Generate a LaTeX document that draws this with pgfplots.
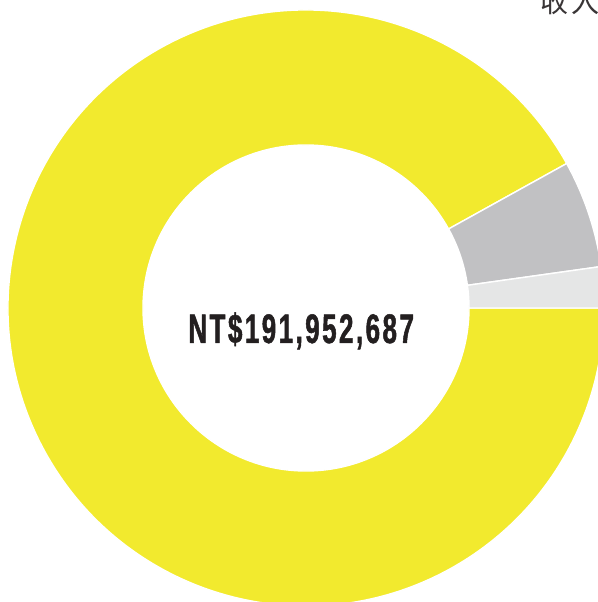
\documentclass[border=0pt]{standalone}
\usepackage{pgfplots}
\pgfplotsset{compat=1.18}
\usepackage{fontspec}
\setmainfont{Liberation Sans}
\newfontfamily\numfont[FakeStretch=0.63, LetterSpace=6, FakeBold=1.2]{Liberation Sans}
\newfontfamily\cjk{Noto Sans CJK TC}
\definecolor{pieyellow}{HTML}{F2EA2E}
\definecolor{piegrey}{HTML}{C1C1C3}
\definecolor{pielight}{HTML}{E5E6E6}
\definecolor{txt}{HTML}{231F20}
% slice boundaries in degrees (counter-clockwise from 3 o'clock)
% light grey 2.2%, grey 5.8%, yellow 92.0%
\def\aA{0}
\def\aB{8}
\def\aC{29}
\def\aD{360}
\def\Ro{7.45}
\def\Ri{4.075}
\newcommand{\ringslice}[3]{%
 \fill[#1, draw=white, line width=1pt]
   (axis cs:{\Ro*cos(#2)},{\Ro*sin(#2)}) arc[start angle=#2, end angle=#3, radius=\Ro]
   -- (axis cs:{\Ri*cos(#3)},{\Ri*sin(#3)}) arc[start angle=#3, end angle=#2, radius=\Ri] -- cycle;}
\begin{document}
\begin{tikzpicture}
\begin{axis}[x=1cm, y=1cm, hide axis,
  xmin=-7.65, xmax=7.30, ymin=-7.35, ymax=7.70, clip=true]
\addplot[draw=none] coordinates {(0,0)};
\coordinate (ll) at (axis cs:-7.65,-7.35);
\coordinate (ur) at (axis cs:7.30,7.70);
\begin{scope}
\clip (axis cs:-7.65,-7.35) rectangle (axis cs:7.30,7.70);
\ringslice{pieyellow}{\aC}{\aD}
\ringslice{piegrey}{\aB}{\aC}
\ringslice{pielight}{\aA}{\aB}
\node[anchor=base, inner sep=0pt, text=txt] at (axis cs:-0.12,-0.875)
  {\numfont\bfseries\fontsize{29.3}{30}\selectfont NT\$191,952,687};
\node[anchor=base west, inner sep=0pt, text=txt!90] at (axis cs:5.85,7.375)
  {\cjk\fontsize{20}{22}\selectfont 收\hspace{2pt}入};
\end{scope}
\end{axis}
\pgfresetboundingbox
\useasboundingbox (ll) rectangle (ur);
\end{tikzpicture}
\end{document}
